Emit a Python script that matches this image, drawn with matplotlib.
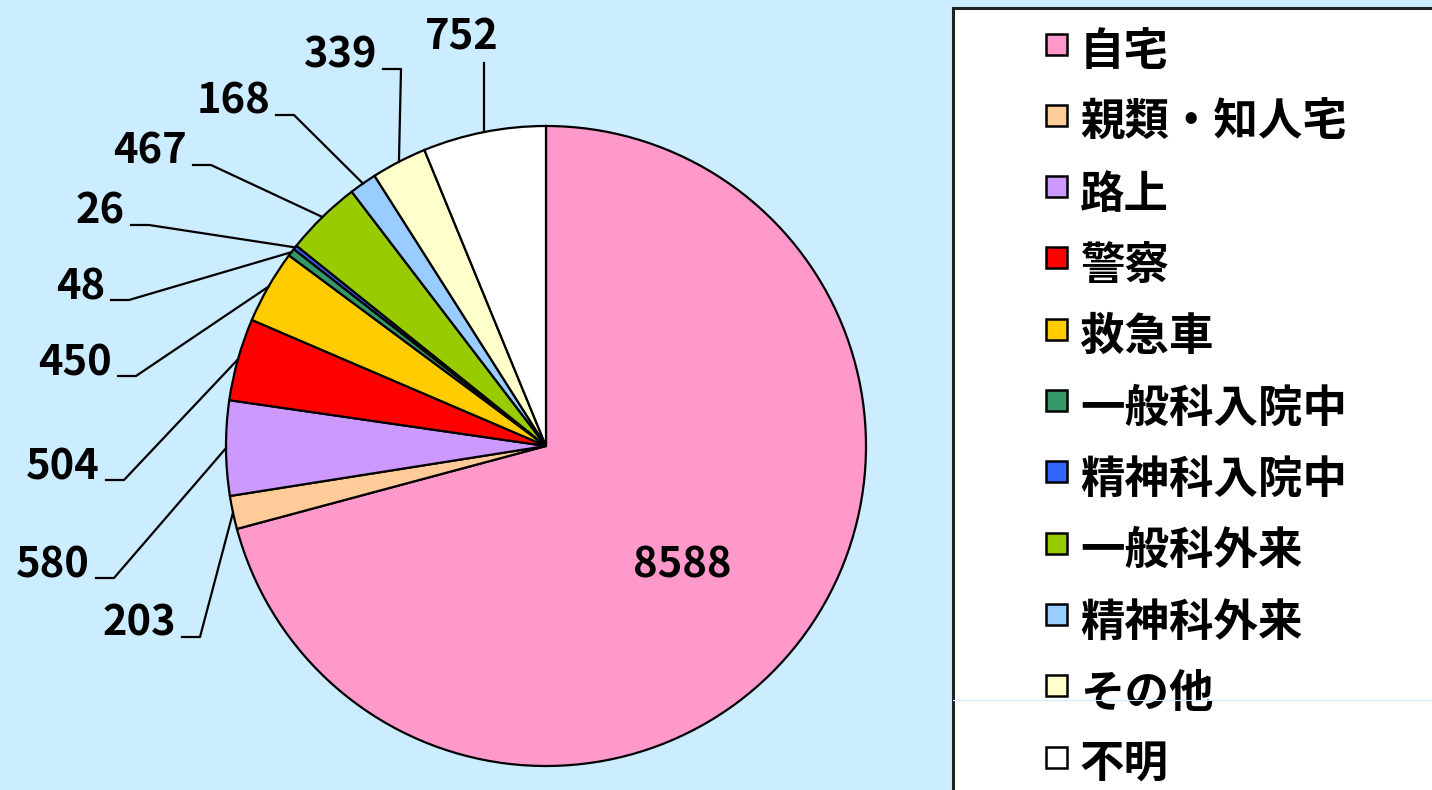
import numpy as np
import matplotlib
matplotlib.use("Agg")
import matplotlib.pyplot as plt
from matplotlib.patches import Rectangle

plt.rcParams['font.family'] = ['Noto Sans CJK JP', 'DejaVu Sans']
plt.rcParams['font.weight'] = 'bold'

# data (clockwise from 12 o'clock)
labels = ['自宅', '親類・知人宅', '路上', '警察', '救急車', '一般科入院中',
          '精神科入院中', '一般科外来', '精神科外来', 'その他', '不明']
values = [8588, 203, 580, 504, 450, 48, 26, 467, 168, 339, 752]
colors = ['#FF99CC', '#FFCC99', '#CC99FF', '#FF0000', '#FFCC00', '#339966',
          '#3366FF', '#99CC00', '#99CCFF', '#FFFFCC', '#FFFFFF']

# label placement in pixel coords (right edge, baseline) for outside labels
label_pos = {1: (176, 636), 2: (90, 577), 3: (100, 479), 4: (112, 375),
             5: (105, 299), 6: (125, 224), 7: (187, 164), 8: (270, 114),
             9: (377, 68)}

W, H = 1432, 790
BG = '#CCECFF'

def Y(y):
    return H - y

fig = plt.figure(figsize=(W / 100, H / 100), dpi=100, facecolor=BG)
ax = fig.add_axes([0, 0, 1, 1])
ax.set_facecolor(BG)

cx, cy, r = 546, Y(446), 320
wedges, _ = ax.pie(values, colors=colors, startangle=90, counterclock=False,
                   center=(cx, cy), radius=r, frame=True,
                   wedgeprops=dict(edgecolor='black', linewidth=1.6))
ax.set_xlim(0, W)
ax.set_ylim(0, H)
ax.axis('off')

fs = 30
for i, w in enumerate(wedges):
    mid = np.deg2rad((w.theta1 + w.theta2) / 2)
    ex, ey = cx + r * np.cos(mid), cy + r * np.sin(mid)
    if i == 0:
        ax.text(682, Y(578), str(values[i]), ha='center', va='baseline',
                fontsize=fs, fontweight='bold')
    elif i == len(values) - 1:
        ax.text(462, Y(50), str(values[i]), ha='center', va='baseline',
                fontsize=fs, fontweight='bold')
        ax.plot([ex, ex], [Y(63), ey], color='black', lw=1.6)
    else:
        tx, ty = label_pos[i]
        ax.text(tx, Y(ty), str(values[i]), ha='right', va='baseline',
                fontsize=fs, fontweight='bold')
        s0, s1 = tx + 6, tx + 24
        ax.plot([s0, s1, ex], [Y(ty + 1), Y(ty + 1), ey], color='black', lw=1.6)

# legend box
ax.add_patch(Rectangle((953, -10), 600, Y(8) + 10, facecolor='white',
                       edgecolor='#222222', linewidth=2.2, zorder=3))
for i, lab in enumerate(labels):
    my = 44 + i * 71.3
    ax.add_patch(Rectangle((1046, Y(my) - 10.5), 21, 21, facecolor=colors[i],
                           edgecolor='black', linewidth=1.8, zorder=4))
    ax.text(1080, Y(my + 8), lab, ha='left', va='center', fontsize=32,
            fontweight='bold', zorder=5)
ax.plot([953, W], [Y(700), Y(700)], color=BG, lw=0.8, zorder=6)

fig.savefig('out.png', dpi=100, facecolor=BG)
